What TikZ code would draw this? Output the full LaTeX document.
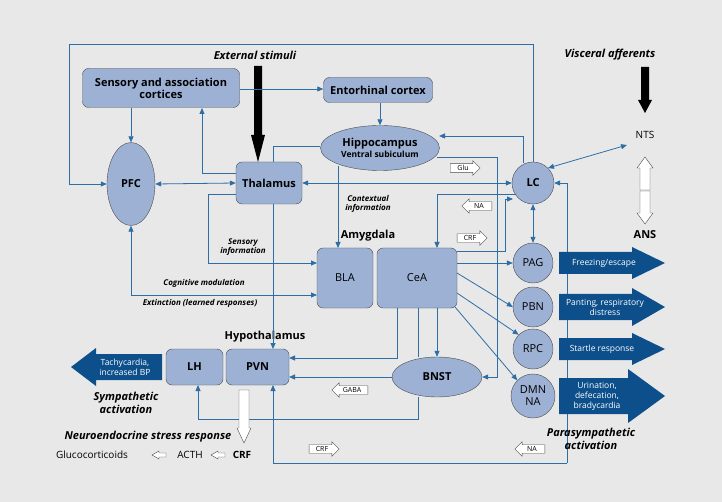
\documentclass[tikz,border=0pt]{standalone}
\usepackage{fontspec}
\setmainfont{Open Sans}
\usetikzlibrary{shapes.geometric,shapes.arrows,arrows.meta}
\definecolor{bg}{HTML}{E8E8E8}
\definecolor{nfill}{HTML}{9CB1D4}
\definecolor{ln}{HTML}{2F6EA5}
\definecolor{dblue}{HTML}{0C4F8B}
\begin{document}
\begin{tikzpicture}[x=1pt,y=-1pt,
  box/.style={draw=black!70,fill=nfill,rounded corners=6pt,font=\bfseries\fontsize{11}{12}\selectfont,align=center,inner sep=0pt},
  ell/.style={draw=black!70,fill=nfill,ellipse,font=\bfseries\fontsize{11}{12}\selectfont,align=center,inner sep=0pt},
  circ/.style={draw=black!70,fill=nfill,circle,minimum size=40pt,inner sep=0pt,font=\fontsize{11}{12}\selectfont,align=center},
  con/.style={draw=ln,line width=0.8pt,-{Triangle[length=6pt,width=5pt]}},
  cons/.style={draw=ln,line width=0.8pt},
  conb/.style={draw=ln,line width=0.8pt,{Triangle[length=6pt,width=5pt]}-{Triangle[length=6pt,width=5pt]}},
  lbl/.style={font=\bfseries\itshape\fontsize{8}{9.5}\selectfont,align=center},
  big/.style={font=\bfseries\itshape\fontsize{11}{13}\selectfont,align=center},
  tag/.style={single arrow,draw=black!70,fill=white,font=\fontsize{7}{8}\selectfont,inner sep=1.5pt,single arrow head extend=3pt,minimum height=30pt},
  btxt/.style={text=white,font=\fontsize{8.5}{10}\selectfont,align=center}
]
\fill[bg] (0,0) rectangle (722,502);
\useasboundingbox (0,0) rectangle (722,502);

% nodes
\node[box,minimum width=157pt,minimum height=39pt] (sens) at (161,88) {Sensory and association\\cortices};
\node[box,minimum width=109pt,minimum height=25pt] (ento) at (378,90) {Entorhinal cortex};
\node[ell,minimum width=119pt,minimum height=45pt] (hip) at (380,148) {Hippocampus\\[-1pt]{\fontsize{8.5}{10}\selectfont Ventral subiculum}};
\node[ell,minimum width=48pt,minimum height=83pt] (pfc) at (131,184) {PFC};
\node[box,minimum width=66pt,minimum height=42pt] (thal) at (269,183) {Thalamus};
\node[circ,minimum size=42pt,font=\bfseries\fontsize{11}{12}\selectfont] (lc) at (533,183) {LC};
\node[font=\fontsize{10}{12}\selectfont] (nts) at (645,135) {NTS};
\node[font=\bfseries\fontsize{11}{12}\selectfont] (ans) at (645,235) {ANS};
\node[box,minimum width=56pt,minimum height=60pt,font=\fontsize{11}{12}\selectfont] (bla) at (345,278) {BLA};
\node[box,minimum width=80pt,minimum height=60pt,font=\fontsize{11}{12}\selectfont] (cea) at (417,278) {CeA};
\node[font=\bfseries\fontsize{11}{12}\selectfont] (amy) at (368,236) {Amygdala};
\node[circ] (pag) at (533,263) {PAG};
\node[circ] (pbn) at (533,307) {PBN};
\node[circ] (rpc) at (533,349) {RPC};
\node[circ,minimum size=44pt] (dmn) at (533,396) {DMN\\NA};
\node[box,minimum width=57pt,minimum height=36pt] (lh) at (194.5,367) {LH};
\node[box,minimum width=63pt,minimum height=36pt] (pvn) at (257.5,367) {PVN};
\node[font=\bfseries\fontsize{11}{12}\selectfont] (hyp) at (265,337) {Hypothalamus};
\node[ell,minimum width=90pt,minimum height=40pt] (bnst) at (437,377) {BNST};

% black arrows
\fill (254,66) -- (262,66) -- (262,135) -- (265,135) -- (258,162) -- (251,135) -- (254,135) -- cycle;
\fill (641,67) -- (649,67) -- (649,100) -- (652,100) -- (645,113) -- (638,100) -- (641,100) -- cycle;
\node[big] (ext) at (255,55) {External stimuli};
\node[big] (visc) at (610,55) {Visceral afferents};

% white double arrow NTS-ANS
\draw[black!70,fill=white] (640,190) -- (640,168) -- (637,168) -- (645,157) -- (653,168) -- (650,168) -- (650,190) -- cycle;
\draw[black!70,fill=white] (640,191) -- (640,213) -- (637,213) -- (645,224) -- (653,213) -- (650,213) -- (650,191) -- cycle;

% connectors
\coordinate (c1) at (69,44);
\draw[con] (lc.north) |- (c1) |- (pfc.west);
\draw[con] (sens.east |- 0,89) -- (ento.west |- 0,89);
\draw[con] (sens.south -| pfc) -- (pfc.north);
\draw[con] (236,173) -| (202,108);
\draw[conb] (pfc.east) -- (thal.west);
\draw[con] (ento.south -| 380,0) -- (hip.north -| 380,0);
\draw[conb] (thal.east) -- (lc.west);
\draw[con] (523,163) |- (439,136);
\draw[con] (437,157) -| (497,377) -- (bnst.east);
\draw[cons] (hip.west |- 0,146) -| (273,162);
\draw[con] (273,204) -- (273,349);
\draw[con] (338,166) -- (338,248);
\draw[con] (236,194) -| (208,263) -- (317,263);
\draw[conb] (pfc.south) |- (317,295);
\draw[con] (516,194) -| (437,248);
\draw[con] (457,251) -| (505,199) -- (513,199);
\draw[conb] (lc.south) -- (pag.north);
\draw[con] (567,463) -- (567,183) -- (lc.east);
\draw[con] (567,463) -| (273,385);
\draw[con] (cea.east |- pag) -- (pag.west);
\draw[con] (457,273) -- (pbn.west);
\draw[con] (457,293) -- (rpc.north west);
\draw[con] (455,307) -- (dmn.north west);
\draw[con] (437,308) -- (bnst.north);
\draw[con] (397,308) |- (289,358);
\draw[con] (bnst.west) -- (289,377);
\draw[cons] (418,308) -- (418,357);
\draw[con] (bnst.south -| 418,0) |- (198,419) -- (198,385);
\draw[conb] (lc.north east) -- (627,145);

% tags
\node[tag] (glu) at (463,168) {Glu};
\node[tag,shape border rotate=180] (na1) at (479,206) {NA};
\node[tag] (crf1) at (470,238) {CRF};
\node[tag,shape border rotate=180,minimum height=36pt] (gaba) at (352,390) {GABA};
\node[tag] (crf2) at (322,449) {CRF};
\node[tag,shape border rotate=180] (na2) at (532,449) {NA};

% labels
\node[lbl] (ctx) at (368,204) {Contextual\\information};
\node[lbl] (sinf) at (243,247) {Sensory\\information};
\node[lbl] (cog) at (204,283) {Cognitive modulation};
\node[lbl] (extn) at (200,303) {Extinction (learned responses)};

% blue block arrows
\fill[dblue] (559,252) -- (632,252) -- (632,247) -- (665,263) -- (632,279) -- (632,274) -- (559,274) -- cycle;
\node[btxt] (t1) at (604,263) {Freezing/escape};
\fill[dblue] (559,294) -- (632,294) -- (632,288) -- (665,307) -- (632,326) -- (632,320) -- (559,320) -- cycle;
\node[btxt] (t2) at (605,307) {Panting, respiratory\\distress};
\fill[dblue] (559,338) -- (632,338) -- (632,333) -- (665,349) -- (632,365) -- (632,360) -- (559,360) -- cycle;
\node[btxt] (t3) at (602,349) {Startle response};
\fill[dblue] (559,378) -- (628,378) -- (628,369) -- (665,396) -- (628,423) -- (628,414) -- (559,414) -- cycle;
\node[btxt] (t4) at (597,396) {Urination,\\defecation,\\bradycardia};
\fill[dblue] (162,354) -- (96,354) -- (96,348) -- (71,367) -- (96,386) -- (96,380) -- (162,380) -- cycle;
\node[btxt] (t5) at (125,367) {Tachycardia,\\increased BP};

\node[big] (symp) at (126,403) {Sympathetic\\activation};
\node[big] (para) at (591,439) {Parasympathetic\\activation};

% PVN white arrow
\draw[black!70,fill=white] (239,390) -- (249,390) -- (249,428) -- (251,428) -- (244,443) -- (237,428) -- (239,428) -- cycle;
\node[big] (neuro) at (148,437) {Neuroendocrine stress response};
\node[font=\fontsize{10}{12}\selectfont] (gluc) at (92,455) {Glucocorticoids};
\node[font=\fontsize{10}{12}\selectfont] (acth) at (190,455) {ACTH};
\node[font=\bfseries\fontsize{10}{12}\selectfont] (crf) at (242,455) {CRF};
\draw[black!70,fill=white] (166,453) -- (159,453) -- (159,451) -- (152,455) -- (159,459) -- (159,457) -- (166,457) -- cycle;
\draw[black!70,fill=white] (225,453) -- (218,453) -- (218,451) -- (211,455) -- (218,459) -- (218,457) -- (225,457) -- cycle;
\end{tikzpicture}
\end{document}
